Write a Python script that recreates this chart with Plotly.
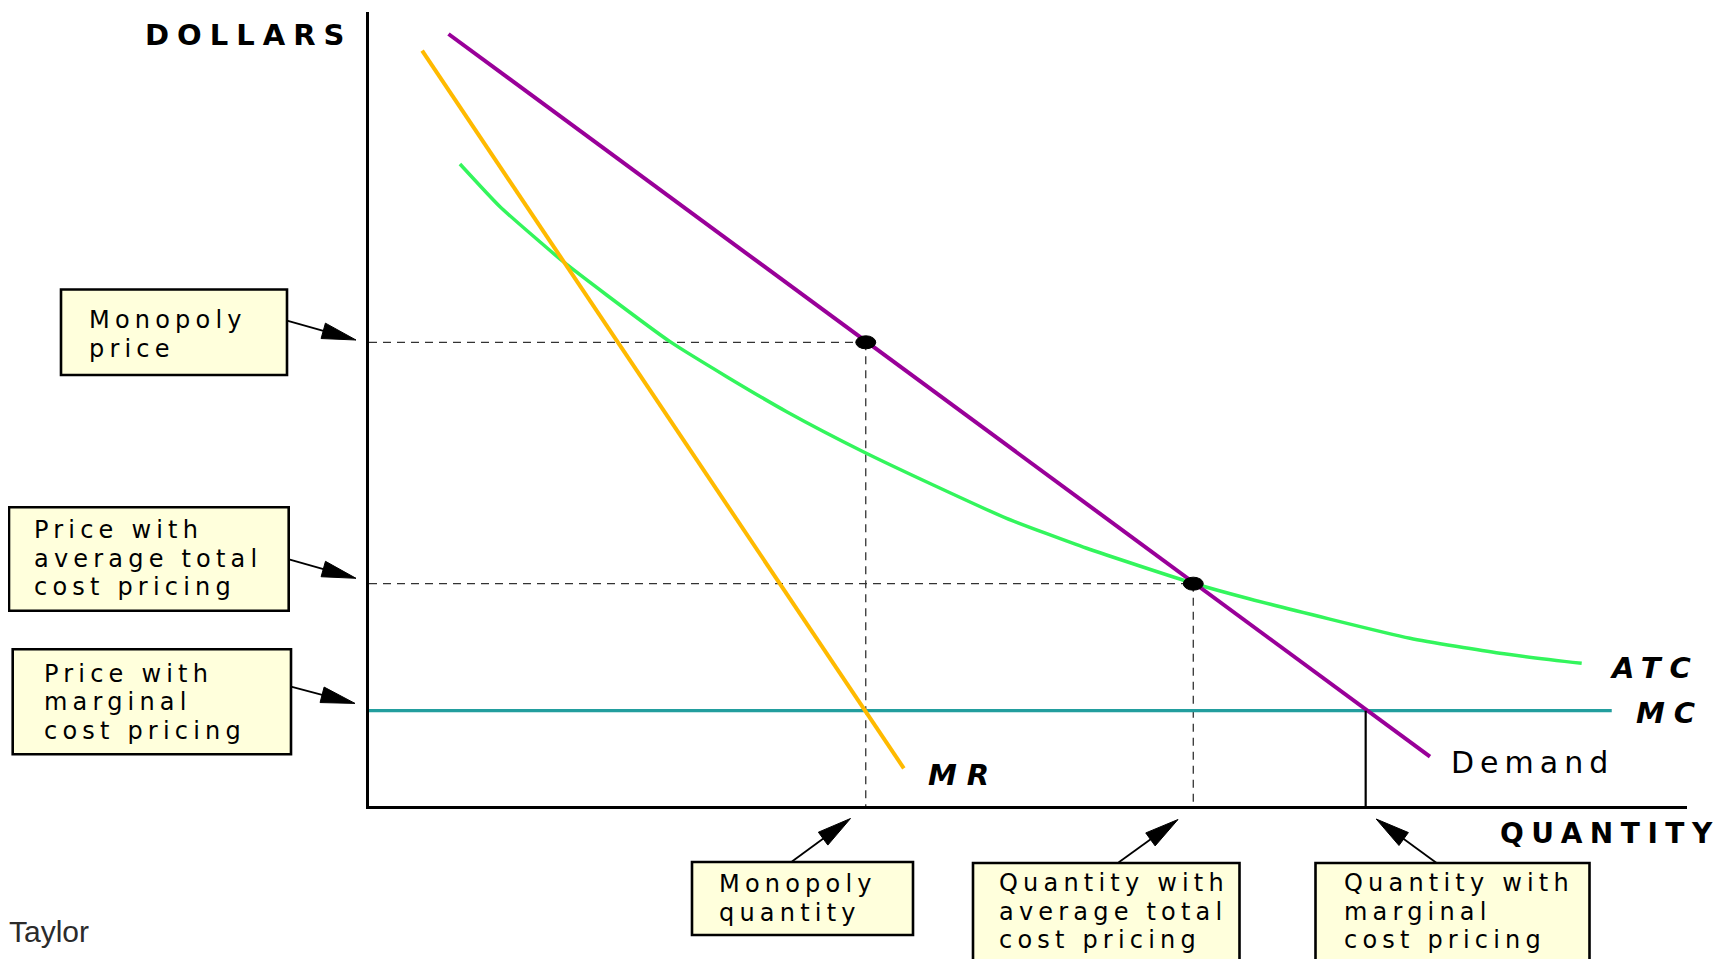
import math
import plotly.graph_objects as go

# ---------------- data (chart units: quantity 0-100 along the x axis, dollars 0-100 up the y axis)
demand_q = [6.03, 80.50]
demand_p = [97.23, 6.21]
mr_q = [4.03, 40.58]
mr_p = [95.13, 4.74]
atc_q = [6.90, 9.94, 14.74, 18.03, 22.84, 27.14, 31.69, 37.50, 42.81,
         48.38, 54.45, 62.54, 66.84, 78.98, 85.81, 92.01]
atc_p = [80.86, 75.48, 68.55, 64.36, 58.48, 54.07, 49.66, 44.62, 40.43,
         36.23, 32.46, 28.05, 26.07, 21.12, 19.23, 17.97]
mc_q = [0.0, 94.29]
mc_p = [12.0, 12.0]

monopoly_quantity = 37.69
monopoly_price = 58.40
atc_quantity = 62.54
atc_price = 28.0
mc_quantity = 75.62
mc_price = 12.0

curve_labels = ["Demand", "MR", "ATC", "MC"]
axis_titles = ["DOLLARS", "QUANTITY"]
price_box_lines = [["Monopoly", "price"],
                   ["Price with", "average total", "cost pricing"],
                   ["Price with", "marginal", "cost pricing"]]
quantity_box_lines = [["Monopoly", "quantity"],
                      ["Quantity with", "average total", "cost pricing"],
                      ["Quantity with", "marginal", "cost pricing"]]
source_text = "Taylor"

# ---------------- layout geometry (page pixels of the 1726x959 window)
PAGE_W, PAGE_H = 1726, 959
BODY = 8                       # default page margin around the plot div
W, H = PAGE_W - BODY, PAGE_H - BODY
PL, PR, PT, PB = 369, 1687, 12, 806   # plot-area edges in page pixels


def px(X):
    return (X - PL) / (PR - PL)


def py(Y):
    return (PB - Y) / (PB - PT)


def spaced(text, s):
    return f'<span style="letter-spacing:{s}px">{text}</span>'


PURPLE = "#990099"
ORANGE = "#FFBA00"
GREEN = "#33F55C"
TEAL = "#229E9E"
BOXFILL = "#FFFFDC"
FONT = "DejaVu Sans"

fig = go.Figure()

dash = "8px,6px"
for xs, ys in [([0, monopoly_quantity], [monopoly_price, monopoly_price]),
               ([monopoly_quantity, monopoly_quantity], [monopoly_price, 0]),
               ([0, atc_quantity], [atc_price, atc_price]),
               ([atc_quantity, atc_quantity], [atc_price, 0])]:
    fig.add_trace(go.Scatter(x=xs, y=ys, mode="lines", hoverinfo="skip",
                             line=dict(color="#333333", width=1.3, dash=dash)))

fig.add_trace(go.Scatter(x=atc_q, y=atc_p, mode="lines", name="ATC",
                         line=dict(color=GREEN, width=3.5, shape="spline", smoothing=0.5)))
fig.add_trace(go.Scatter(x=mc_q, y=mc_p, mode="lines", name="MC",
                         line=dict(color=TEAL, width=3.2)))
fig.add_trace(go.Scatter(x=mr_q, y=mr_p, mode="lines", name="MR",
                         line=dict(color=ORANGE, width=4)))
fig.add_trace(go.Scatter(x=demand_q, y=demand_p, mode="lines", name="Demand",
                         line=dict(color=PURPLE, width=4)))
fig.add_trace(go.Scatter(x=[mc_quantity, mc_quantity], y=[mc_price, 0], mode="lines",
                         line=dict(color="black", width=2.2), hoverinfo="skip", cliponaxis=False))

shapes = []
for q, p in [(monopoly_quantity, monopoly_price), (atc_quantity, atc_price)]:
    shapes.append(dict(type="circle", xref="x", yref="y", xsizemode="pixel", ysizemode="pixel",
                       xanchor=q, yanchor=p, x0=-10, x1=10, y0=-6.5, y1=6.5,
                       fillcolor="black", line=dict(color="black", width=1), layer="above"))

annotations = []
BOX_FS = 24
BOX_LS = 5.2
HEAD_LEN, HEAD_W = 34, 16


def add_arrow(tail, tip):
    dx, dy = tip[0] - tail[0], tip[1] - tail[1]
    d = math.hypot(dx, dy)
    ux, uy = dx / d, dy / d
    bx, by = tip[0] - HEAD_LEN * ux, tip[1] - HEAD_LEN * uy
    nx, ny = -uy, ux
    p1 = (bx + HEAD_W / 2 * nx, by + HEAD_W / 2 * ny)
    p2 = (bx - HEAD_W / 2 * nx, by - HEAD_W / 2 * ny)
    shapes.append(dict(type="line", xref="paper", yref="paper",
                       x0=px(tail[0]), y0=py(tail[1]), x1=px(bx + 2 * ux), y1=py(by + 2 * uy),
                       line=dict(color="black", width=1.8), layer="above"))
    path = (f"M{px(tip[0])},{py(tip[1])} L{px(p1[0])},{py(p1[1])} "
            f"L{px(p2[0])},{py(p2[1])} Z")
    shapes.append(dict(type="path", xref="paper", yref="paper", path=path,
                       fillcolor="black", line=dict(color="black", width=1), layer="above"))


price_boxes = [  # (x0, y0, x1, y1, text_x, line centers, arrow tail, arrow tip)
    (61, 289.5, 287, 375, 88, [320, 348.6], (287, 320.7), (356, 340)),
    (9, 507.3, 288.7, 610.7, 33, [530.3, 558.8, 587.3], (289, 559.3), (356, 578.3)),
    (12.7, 649.3, 291, 754.3, 43.3, [673.5, 702, 730.5], (291, 686.7), (355, 703.4)),
]
quantity_boxes = [
    (692, 862, 913, 935, 718, [884, 912.6], (792, 861.5), (850.5, 818.5)),
    (973, 863, 1239.5, 1000, 998, [883, 911.5, 940], (1118.5, 862.5), (1178, 819.5)),
    (1315.5, 863, 1589.5, 1000, 1342.6, [883, 911.5, 940], (1436.6, 863), (1376.2, 819)),
]

for geo, lines in list(zip(price_boxes, price_box_lines)) + list(zip(quantity_boxes, quantity_box_lines)):
    x0, y0, x1, y1, tx, centers, tail, tip = geo
    shapes.append(dict(type="rect", xref="paper", yref="paper",
                       x0=px(x0), x1=px(x1), y0=py(y1), y1=py(y0),
                       fillcolor=BOXFILL, line=dict(color="black", width=2.6), layer="above"))
    for line, cy in zip(lines, centers):
        annotations.append(dict(xref="paper", yref="paper", x=px(tx), y=py(cy),
                                xanchor="left", yanchor="middle", showarrow=False,
                                text=spaced(line, BOX_LS), borderpad=0,
                                font=dict(family=FONT, size=BOX_FS, color="black")))
    add_arrow(tail, tip)

# axis titles
annotations.append(dict(xref="paper", yref="paper", x=px(354), y=py(35.5), xanchor="right",
                        yanchor="middle", showarrow=False, text=spaced(axis_titles[0], 8),
                        font=dict(family=FONT, size=29, color="black", weight="bold")))
annotations.append(dict(xref="paper", yref="paper", x=px(1722), y=py(833.3), xanchor="right",
                        yanchor="middle", showarrow=False, text=spaced(axis_titles[1], 7.5),
                        font=dict(family=FONT, size=28, color="black", weight="bold")))

# curve labels
annotations.append(dict(xref="paper", yref="paper", x=px(1449), y=py(762.5), xanchor="left",
                        yanchor="middle", showarrow=False, text=spaced(curve_labels[0], 6),
                        font=dict(family=FONT, size=30, color="black")))
annotations.append(dict(xref="paper", yref="paper", x=px(926), y=py(774.5), xanchor="left",
                        yanchor="middle", showarrow=False, text=spaced(curve_labels[1], 10),
                        font=dict(family=FONT, size=29, color="black", weight="bold", style="italic")))
annotations.append(dict(xref="paper", yref="paper", x=px(1702), y=py(667.5), xanchor="right",
                        yanchor="middle", showarrow=False, text=spaced(curve_labels[2], 9),
                        font=dict(family=FONT, size=29, color="black", weight="bold", style="italic")))
annotations.append(dict(xref="paper", yref="paper", x=px(1706), y=py(712.5), xanchor="right",
                        yanchor="middle", showarrow=False, text=spaced(curve_labels[3], 9),
                        font=dict(family=FONT, size=29, color="black", weight="bold", style="italic")))

# source caption (left edge of the drawable page area)
annotations.append(dict(xref="paper", yref="paper", x=px(BODY), y=py(931.5), xanchor="left",
                        yanchor="middle", showarrow=False, text=source_text, borderpad=0,
                        font=dict(family="Liberation Sans", size=30, color="#2b2b2b")))

axis_style = dict(range=[0, 100], showline=True, linecolor="black", linewidth=2.5,
                  showgrid=False, zeroline=False, showticklabels=False, ticks="", fixedrange=True)

fig.update_layout(
    width=W, height=H,
    margin=dict(l=PL - BODY, r=W - (PR - BODY), t=PT - BODY, b=H - (PB - BODY), pad=0),
    paper_bgcolor="white", plot_bgcolor="white",
    showlegend=False,
    xaxis=axis_style, yaxis=axis_style,
    shapes=shapes, annotations=annotations,
)

fig.write_html("out.html")
